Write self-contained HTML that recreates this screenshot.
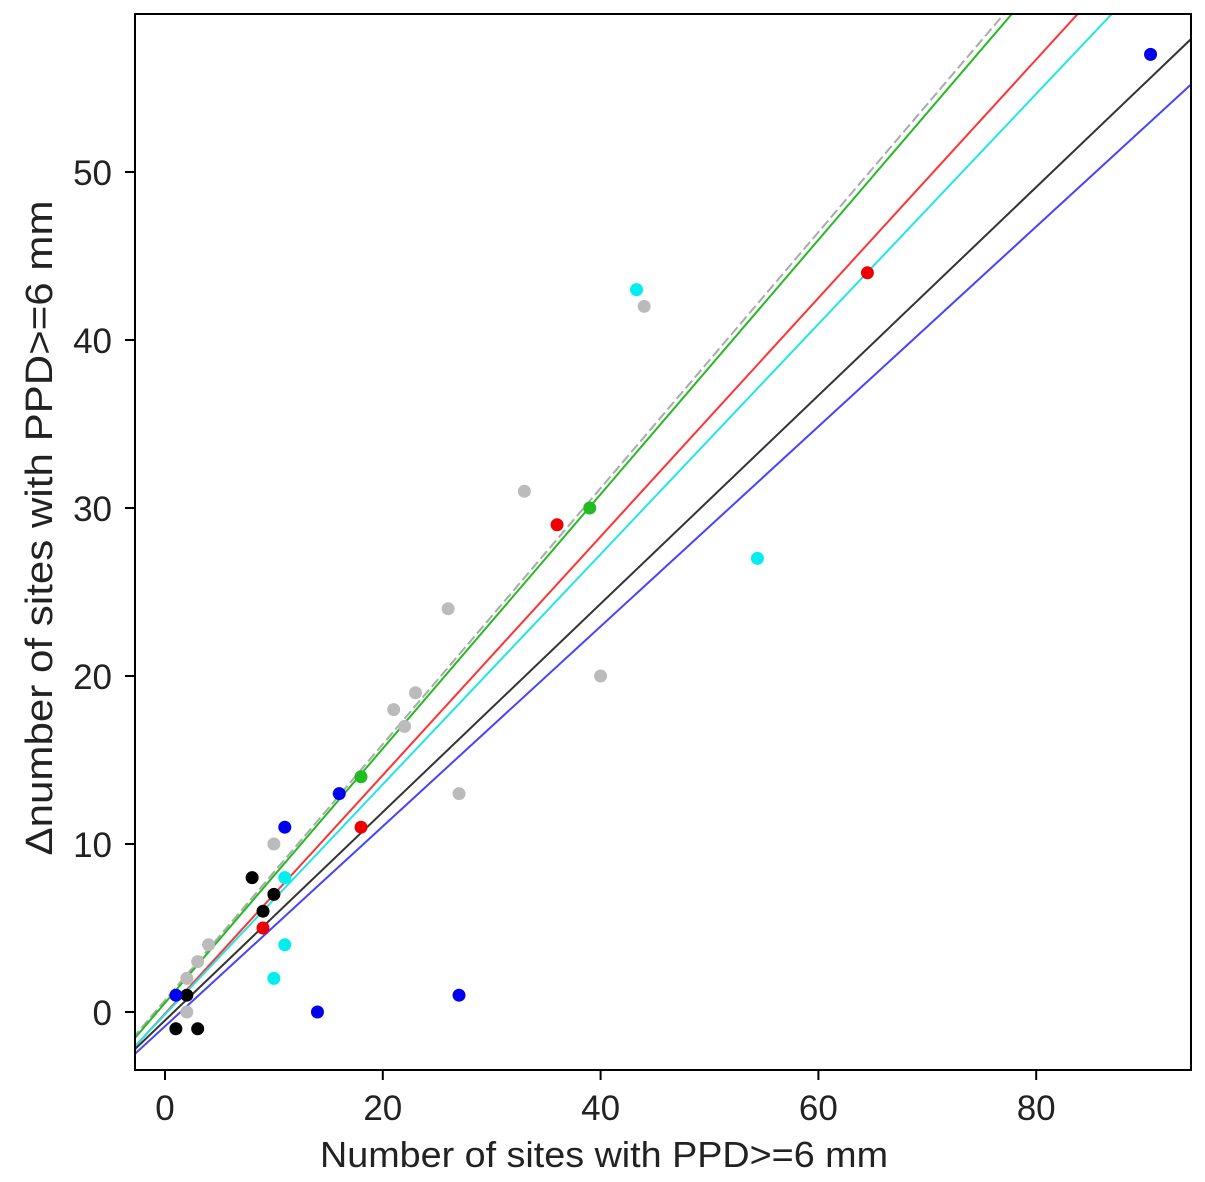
<!DOCTYPE html>
<html><head><meta charset="utf-8"><style>
body{margin:0;background:#fff}
svg{display:block;font-family:"Liberation Sans",sans-serif}
</style></head><body>
<svg id="chart" width="1205" height="1182">
<defs><clipPath id="clip"><rect x="135" y="14" width="1056" height="1056"/></clipPath></defs>
<g id="lines" clip-path="url(#clip)"></g>
<g id="points" clip-path="url(#clip)"></g>
<rect x="135" y="14" width="1056" height="1056" fill="none" stroke="#000" stroke-width="2"/>
<g id="xticks"></g>
<g id="yticks"></g>
<text x="604" y="1167" font-size="36" text-anchor="middle" textLength="568" lengthAdjust="spacingAndGlyphs" fill="#222">Number of sites with PPD&gt;=6 mm</text>
<text transform="translate(52,528) rotate(-90)" font-size="38" text-anchor="middle" textLength="655" lengthAdjust="spacingAndGlyphs" fill="#222">Δnumber of sites with PPD&gt;=6 mm</text>
</svg>
<script>
const xTicks=[0,20,40,60,80];
const yTicks=[0,10,20,30,40,50];
const lineColors=["#aaaaaa","#22bb22","#ff3333","#22e5e5","#333333","#4444ff"];
const lineSlopes=[0.762,0.757,0.71,0.685,0.62,0.595];
const lineIntercepts=[0.7,0.54,-0.1,-0.15,-0.5,-0.85];
const grayX=[2,3,4,2,10,21,22,23,26,27,33,40,44];
const grayY=[2,3,4,0,10,18,17,19,24,13,31,20,42];
const blackX=[1,3,2,8,9,10];
const blackY=[-1,-1,1,8,6,7];
const blueX=[1,14,16,11,27,90.5];
const blueY=[1,0,13,11,1,57];
const redX=[9,18,36,64.5];
const redY=[5,11,29,44];
const cyanX=[10,11,11,43.3,54.4];
const cyanY=[2,4,8,43,27];
const greenX=[18,39];
const greenY=[14,30];
const sx=v=>165+v*10.89;
const sy=v=>1012-v*16.8;
const NS="http://www.w3.org/2000/svg";
function mk(t,a,p){const e=document.createElementNS(NS,t);for(const k in a)e.setAttribute(k,a[k]);p.appendChild(e);return e;}
const xg=document.getElementById('xticks'),yg=document.getElementById('yticks');
xTicks.forEach(v=>{
 const l=mk('line',{x1:sx(v),x2:sx(v),y1:1070,y2:1080,stroke:'#000','stroke-width':2},xg);
 
 
 const t=mk('text',{x:sx(v),y:1120,'font-size':35,'text-anchor':'middle',fill:'#222'},xg);t.textContent=v;
 
 
});
yTicks.forEach(v=>{
 const l=mk('line',{x1:125,x2:135,y1:sy(v),y2:sy(v),stroke:'#000','stroke-width':2},yg);
 
 
 const t=mk('text',{x:112,y:sy(v)+13,'font-size':35,'text-anchor':'end',fill:'#222'},yg);t.textContent=v;
 
 
});
const lg=document.getElementById('lines');
lineColors.forEach((c,i)=>{
 const x0=-3,x1=96;
 const l=mk('line',{x1:sx(x0),y1:sy(lineIntercepts[i]+lineSlopes[i]*x0),x2:sx(x1),y2:sy(lineIntercepts[i]+lineSlopes[i]*x1),stroke:c,'stroke-width':2},lg);
 if(i===0)l.setAttribute('stroke-dasharray','10 4');
 
 
});
const pg=document.getElementById('points');
[[grayX,grayY,'#bbbbbb'],[blackX,blackY,'#000000'],[blueX,blueY,'#0000ee'],[redX,redY,'#ee0000'],[cyanX,cyanY,'#00eeee'],[greenX,greenY,'#22bb22']].forEach(([xs,ys,c])=>{
 xs.forEach((x,j)=>{
  const p=mk('circle',{cx:sx(x),cy:sy(ys[j]),r:6.5,fill:c},pg);
  
  
 });
});
</script>
</body></html>
